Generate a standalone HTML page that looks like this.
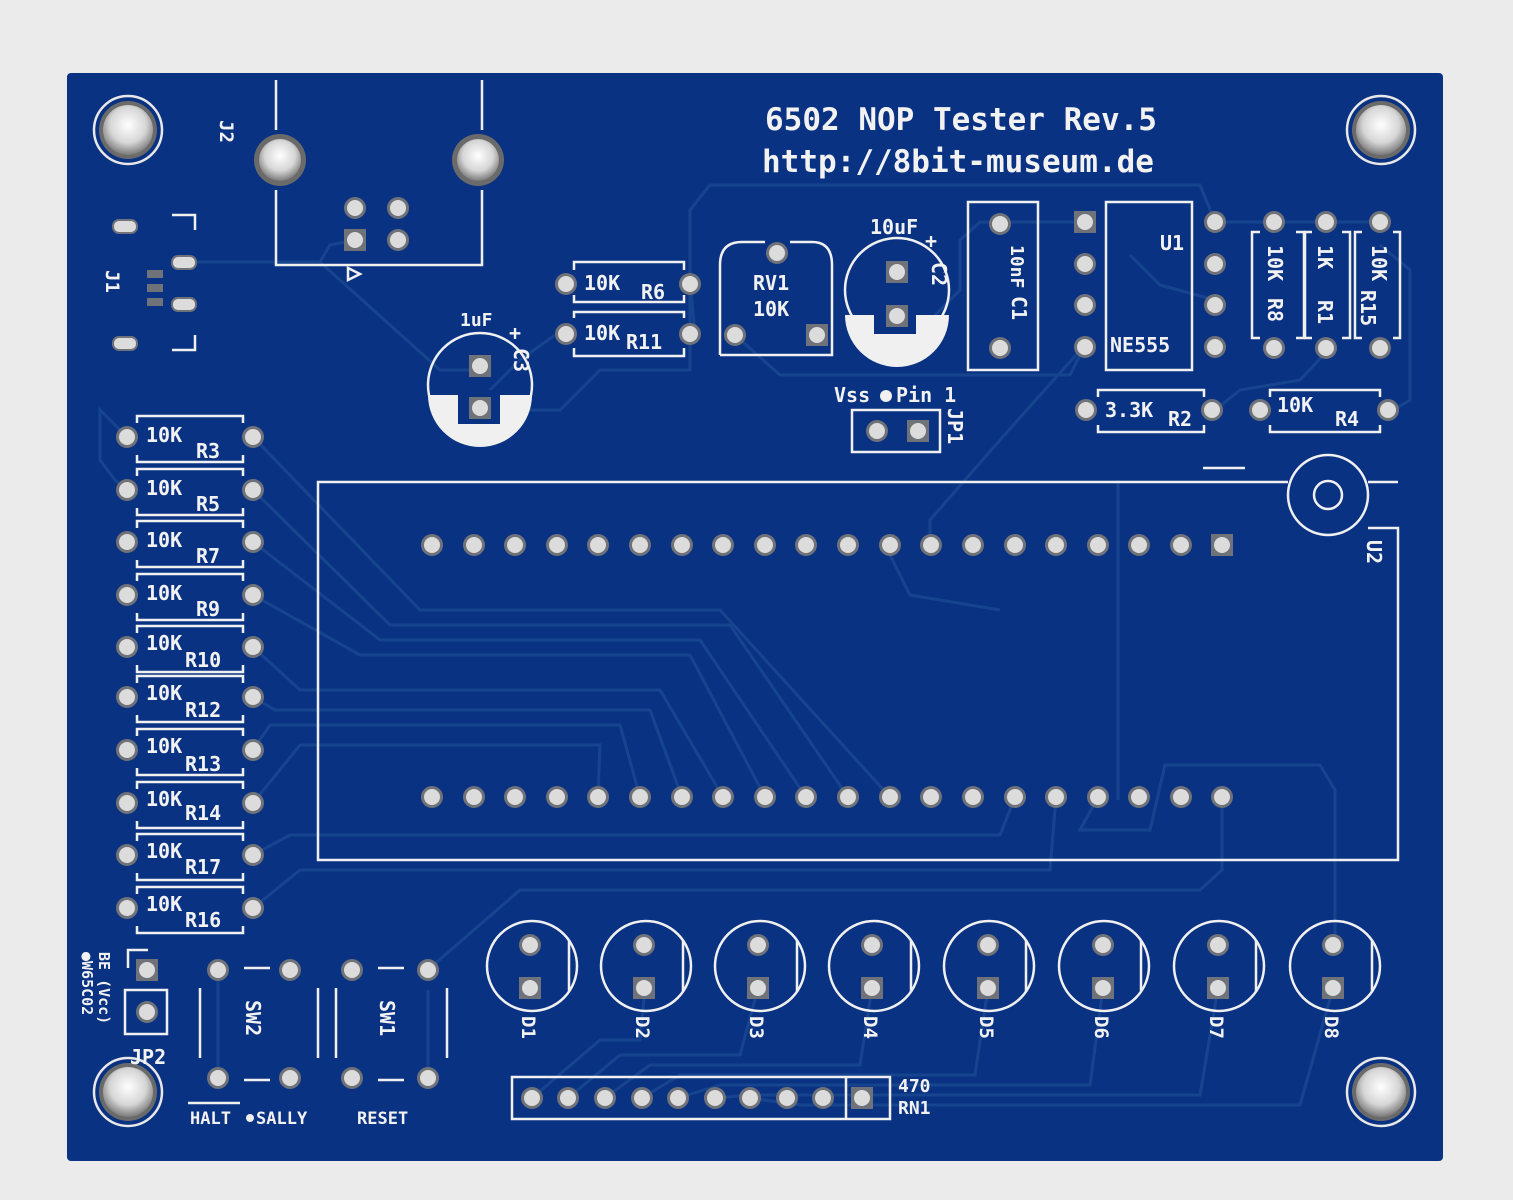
<!DOCTYPE html>
<html><head><meta charset="utf-8"><style>
html,body{margin:0;padding:0;background:#e9e9e9;}
svg{display:block}
text{font-family:"DejaVu Sans Mono","Liberation Mono",monospace;fill:#f2f2f2;font-weight:bold}
</style></head><body>
<svg width="1513" height="1200" viewBox="0 0 1513 1200" xmlns="http://www.w3.org/2000/svg">
<defs>
<radialGradient id="hole" cx="50%" cy="40%" r="60%"><stop offset="0" stop-color="#ffffff"/><stop offset="0.6" stop-color="#d6d6d6"/><stop offset="1" stop-color="#7a7a7a"/></radialGradient>
<g id="p"><circle r="11" fill="#6f7278"/><circle r="8" fill="#dcdcdc"/></g>
<g id="s"><rect x="-11" y="-11" width="22" height="22" fill="#6f7278"/><circle r="8" fill="#dcdcdc"/></g>
<g id="mh"><circle r="34" fill="none" stroke="#e8e8e8" stroke-width="2.5"/><circle r="29" fill="#6a6a6a"/><circle r="25" fill="url(#hole)"/></g>
<g id="led"><circle r="45" fill="none" stroke="#f0f0f0" stroke-width="2.5"/><path d="M 37 -26 L 37 26" stroke="#f0f0f0" stroke-width="2.5"/></g>
</defs>
<rect x="0" y="0" width="1513" height="1200" fill="#ebebeb"/>
<rect x="67" y="73" width="1376" height="1088" rx="4" fill="#0a3282"/>

<!-- traces -->
<g fill="none" stroke="#17448f" stroke-width="3">
<path d="M185 262 L320 262 L330 245 L355 240"/>
<path d="M320 262 L440 370 L480 370"/>
<path d="M485 410 L560 410 L600 370 L690 370 L690 210 L710 185 L1200 185 L1215 222"/>
<path d="M1215 222 L1380 222"/>
<path d="M1080 222 L980 222 L960 240 L960 290 L930 320 L900 320"/>
<path d="M690 280 L695 335"/>
<path d="M555 335 L520 360 L480 400"/>
<path d="M735 335 L780 375 L1070 375 L1085 345"/>
<path d="M1130 255 L1160 285 L1215 300"/>
<path d="M1085 345 L1000 440 L930 520 L930 545"/>
<path d="M1215 410 L1240 390 L1300 380 L1330 348"/>
<path d="M1380 245 L1410 270 L1410 400 L1390 412"/>
<path d="M1118 480 L1118 800"/>
<path d="M127 437 L100 410 L100 460 L115 480 L127 490"/>
<path d="M253 437 L420 610 L720 610 L890 797"/>
<path d="M253 490 L390 625 L730 625 L848 797"/>
<path d="M253 542 L380 640 L700 640 L806 797"/>
<path d="M253 595 L360 655 L690 655 L765 797"/>
<path d="M253 647 L300 690 L660 690 L723 797"/>
<path d="M253 697 L275 710 L650 710 L682 797"/>
<path d="M253 750 L270 725 L620 725 L640 797"/>
<path d="M253 803 L300 745 L600 745 L598 797"/>
<path d="M253 855 L290 835 L1000 835 L1015 797"/>
<path d="M253 908 L300 870 L1050 870 L1056 797"/>
<path d="M1098 797 L1080 830 L1150 830 L1165 765 L1320 765 L1335 790 L1335 945"/>
<path d="M1222 797 L1222 870 L1200 890 L520 890 L430 968"/>
<path d="M218 968 L218 1078"/>
<path d="M428 1078 L428 990"/>
<path d="M885 545 L910 595 L1000 610"/>
<path d="M532 1098 L600 1040 L640 1040 L645 988"/>
<path d="M568 1098 L620 1055 L740 1055 L758 988"/>
<path d="M605 1098 L650 1065 L860 1065 L872 988"/>
<path d="M642 1098 L680 1075 L975 1075 L988 988"/>
<path d="M678 1098 L720 1085 L1090 1085 L1103 988"/>
<path d="M715 1098 L750 1095 L1200 1095 L1218 988"/>
<path d="M750 1098 L800 1105 L1300 1105 L1333 988"/>
</g>

<use href="#mh" x="128" y="130"/><use href="#mh" x="1381" y="130"/>
<use href="#mh" x="128" y="1092"/><use href="#mh" x="1381" y="1092"/>

<g fill="none" stroke="#f0f0f0" stroke-width="2.5">
<path d="M276 80 L276 130 M276 190 L276 265 L482 265 L482 190 M482 130 L482 80"/>
<path d="M348 268 L360 274 L348 280 Z"/>
<path d="M172 215 L195 215 L195 230 M172 350 L195 350 L195 335"/>
<path d="M574 270 L574 262 L684 262 L684 270 M574 295 L574 302 L684 302 L684 295"/>
<path d="M574 318 L574 312 L684 312 L684 318 M574 348 L574 356 L684 356 L684 348"/>
<path d="M720 355 L720 265 Q720 242 742 242 L765 242 M790 242 L812 242 Q832 242 832 265 L832 355 L720 355"/>
<circle cx="897" cy="290" r="52"/>
<circle cx="480" cy="385" r="52"/>
<rect x="968" y="202" width="70" height="168"/>
<rect x="1106" y="202" width="86" height="168"/>
<path d="M1260 232 L1252 232 L1252 338 L1260 338 M1296 232 L1304 232 L1304 338 L1296 338"/>
<path d="M1312 232 L1305 232 L1305 338 L1312 338 M1342 232 L1350 232 L1350 338 L1342 338"/>
<path d="M1362 232 L1355 232 L1355 338 L1362 338 M1393 232 L1400 232 L1400 338 L1393 338"/>
<path d="M1098 397 L1098 390 L1204 390 L1204 397 M1098 425 L1098 432 L1204 432 L1204 425"/>
<path d="M1270 397 L1270 390 L1380 390 L1380 397 M1270 425 L1270 432 L1380 432 L1380 425"/>
<rect x="852" y="410" width="88" height="42"/>
<path d="M1288 482 L318 482 L318 860 L1398 860 L1398 528 L1368 528 M1368 482 L1398 482"/>
<circle cx="1328" cy="495" r="40"/><circle cx="1328" cy="495" r="14"/>
<path d="M1203 468 L1245 468"/>
<path d="M128 968 L128 950 L148 950"/>
<rect x="125" y="990" width="42" height="44"/>
<path d="M200 988 L200 1058 M318 988 L318 1058 M244 968 L270 968 M244 1080 L270 1080"/>
<path d="M336 988 L336 1058 M447 988 L447 1058 M378 968 L404 968 M378 1080 L404 1080"/>
<path d="M188 1103 L240 1103"/>
<rect x="512" y="1077" width="378" height="42"/>
<path d="M846 1077 L846 1119"/>
</g>
<path d="M845 315 A52 52 0 0 0 949 315 Z" fill="#f0f0f0"/>
<path d="M428 395 A52 52 0 0 0 532 395 Z" fill="#f0f0f0"/>
<rect x="874" y="300" width="42" height="34" fill="#0a3282"/>
<rect x="458" y="390" width="42" height="34" fill="#0a3282"/>

<g fill="none" stroke="#f0f0f0" stroke-width="2.5">
<path d="M137 423 L137 416 L243 416 L243 423 M137 455 L137 462 L243 462 L243 455"/>
<path d="M137 476 L137 469 L243 469 L243 476 M137 508 L137 515 L243 515 L243 508"/>
<path d="M137 528 L137 521 L243 521 L243 528 M137 560 L137 567 L243 567 L243 560"/>
<path d="M137 581 L137 574 L243 574 L243 581 M137 613 L137 620 L243 620 L243 613"/>
<path d="M137 633 L137 626 L243 626 L243 633 M137 665 L137 672 L243 672 L243 665"/>
<path d="M137 683 L137 676 L243 676 L243 683 M137 715 L137 722 L243 722 L243 715"/>
<path d="M137 736 L137 729 L243 729 L243 736 M137 768 L137 775 L243 775 L243 768"/>
<path d="M137 789 L137 782 L243 782 L243 789 M137 821 L137 828 L243 828 L243 821"/>
<path d="M137 841 L137 834 L243 834 L243 841 M137 873 L137 880 L243 880 L243 873"/>
<path d="M137 894 L137 887 L243 887 L243 894 M137 926 L137 933 L243 933 L243 926"/>
</g>
<g font-size="20">
<text x="146" y="442">10K</text><text x="196" y="458">R3</text>
<text x="146" y="495">10K</text><text x="196" y="511">R5</text>
<text x="146" y="547">10K</text><text x="196" y="563">R7</text>
<text x="146" y="600">10K</text><text x="196" y="616">R9</text>
<text x="146" y="650">10K</text><text x="185" y="667">R10</text>
<text x="146" y="700">10K</text><text x="185" y="717">R12</text>
<text x="146" y="753">10K</text><text x="185" y="771">R13</text>
<text x="146" y="806">10K</text><text x="185" y="820">R14</text>
<text x="146" y="858">10K</text><text x="185" y="874">R17</text>
<text x="146" y="911">10K</text><text x="185" y="927">R16</text>
</g>

<g>
<use href="#p" x="127" y="437"/><use href="#p" x="253" y="437"/>
<use href="#p" x="127" y="490"/><use href="#p" x="253" y="490"/>
<use href="#p" x="127" y="542"/><use href="#p" x="253" y="542"/>
<use href="#p" x="127" y="595"/><use href="#p" x="253" y="595"/>
<use href="#p" x="127" y="647"/><use href="#p" x="253" y="647"/>
<use href="#p" x="127" y="697"/><use href="#p" x="253" y="697"/>
<use href="#p" x="127" y="750"/><use href="#p" x="253" y="750"/>
<use href="#p" x="127" y="803"/><use href="#p" x="253" y="803"/>
<use href="#p" x="127" y="855"/><use href="#p" x="253" y="855"/>
<use href="#p" x="127" y="908"/><use href="#p" x="253" y="908"/>
<use href="#p" x="432" y="545"/><use href="#p" x="474" y="545"/><use href="#p" x="515" y="545"/><use href="#p" x="557" y="545"/><use href="#p" x="598" y="545"/><use href="#p" x="640" y="545"/><use href="#p" x="682" y="545"/><use href="#p" x="723" y="545"/><use href="#p" x="765" y="545"/><use href="#p" x="806" y="545"/><use href="#p" x="848" y="545"/><use href="#p" x="890" y="545"/><use href="#p" x="931" y="545"/><use href="#p" x="973" y="545"/><use href="#p" x="1015" y="545"/><use href="#p" x="1056" y="545"/><use href="#p" x="1098" y="545"/><use href="#p" x="1139" y="545"/><use href="#p" x="1181" y="545"/><use href="#s" x="1222" y="545"/>
<use href="#p" x="432" y="797"/><use href="#p" x="474" y="797"/><use href="#p" x="515" y="797"/><use href="#p" x="557" y="797"/><use href="#p" x="598" y="797"/><use href="#p" x="640" y="797"/><use href="#p" x="682" y="797"/><use href="#p" x="723" y="797"/><use href="#p" x="765" y="797"/><use href="#p" x="806" y="797"/><use href="#p" x="848" y="797"/><use href="#p" x="890" y="797"/><use href="#p" x="931" y="797"/><use href="#p" x="973" y="797"/><use href="#p" x="1015" y="797"/><use href="#p" x="1056" y="797"/><use href="#p" x="1098" y="797"/><use href="#p" x="1139" y="797"/><use href="#p" x="1181" y="797"/><use href="#p" x="1222" y="797"/>
<circle cx="280" cy="160" r="26" fill="#6a6a6a"/><circle cx="280" cy="160" r="21" fill="url(#hole)"/>
<circle cx="478" cy="160" r="26" fill="#6a6a6a"/><circle cx="478" cy="160" r="21" fill="url(#hole)"/>
<use href="#p" x="355" y="208"/><use href="#p" x="398" y="208"/><use href="#s" x="355" y="240"/><use href="#p" x="398" y="240"/>
<rect x="113" y="220" width="24" height="13" rx="6" fill="#dcdcdc" stroke="#6f7278" stroke-width="2"/>
<rect x="113" y="337" width="24" height="13" rx="6" fill="#dcdcdc" stroke="#6f7278" stroke-width="2"/>
<rect x="172" y="256" width="24" height="13" rx="6" fill="#dcdcdc" stroke="#6f7278" stroke-width="2"/>
<rect x="172" y="298" width="24" height="13" rx="6" fill="#dcdcdc" stroke="#6f7278" stroke-width="2"/>
<rect x="147" y="270" width="16" height="8" fill="#6f7278"/><rect x="147" y="284" width="16" height="8" fill="#6f7278"/><rect x="147" y="298" width="16" height="8" fill="#6f7278"/>
<use href="#p" x="566" y="284"/><use href="#p" x="690" y="284"/>
<use href="#p" x="566" y="334"/><use href="#p" x="690" y="334"/>
<use href="#p" x="777" y="253"/><use href="#p" x="735" y="335"/><use href="#s" x="817" y="335"/>
<use href="#s" x="897" y="272"/><use href="#s" x="897" y="316"/>
<use href="#s" x="480" y="366"/><use href="#s" x="480" y="408"/>
<use href="#p" x="1000" y="224"/><use href="#p" x="1000" y="348"/>
<use href="#s" x="1085" y="222"/><use href="#p" x="1085" y="264"/><use href="#p" x="1085" y="305"/><use href="#p" x="1085" y="347"/>
<use href="#p" x="1215" y="222"/><use href="#p" x="1215" y="264"/><use href="#p" x="1215" y="305"/><use href="#p" x="1215" y="347"/>
<use href="#p" x="1274" y="222"/><use href="#p" x="1274" y="348"/>
<use href="#p" x="1326" y="222"/><use href="#p" x="1326" y="348"/>
<use href="#p" x="1380" y="222"/><use href="#p" x="1380" y="348"/>
<use href="#p" x="1086" y="410"/><use href="#p" x="1212" y="410"/>
<use href="#p" x="1260" y="410"/><use href="#p" x="1388" y="410"/>
<use href="#p" x="877" y="431"/><use href="#s" x="918" y="431"/>
<use href="#led" x="532" y="966"/><use href="#led" x="646" y="966"/><use href="#led" x="760" y="966"/><use href="#led" x="874" y="966"/><use href="#led" x="989" y="966"/><use href="#led" x="1104" y="966"/><use href="#led" x="1219" y="966"/><use href="#led" x="1335" y="966"/>
<use href="#p" x="530" y="945"/><use href="#s" x="530" y="988"/>
<use href="#p" x="644" y="945"/><use href="#s" x="644" y="988"/>
<use href="#p" x="758" y="945"/><use href="#s" x="758" y="988"/>
<use href="#p" x="872" y="945"/><use href="#s" x="872" y="988"/>
<use href="#p" x="988" y="945"/><use href="#s" x="988" y="988"/>
<use href="#p" x="1103" y="945"/><use href="#s" x="1103" y="988"/>
<use href="#p" x="1218" y="945"/><use href="#s" x="1218" y="988"/>
<use href="#p" x="1333" y="945"/><use href="#s" x="1333" y="988"/>
<use href="#s" x="147" y="970"/><use href="#p" x="147" y="1012"/>
<use href="#p" x="218" y="970"/><use href="#p" x="290" y="970"/><use href="#p" x="218" y="1078"/><use href="#p" x="290" y="1078"/>
<use href="#p" x="352" y="970"/><use href="#p" x="428" y="970"/><use href="#p" x="352" y="1078"/><use href="#p" x="428" y="1078"/>
<use href="#p" x="532" y="1098"/><use href="#p" x="568" y="1098"/><use href="#p" x="605" y="1098"/><use href="#p" x="642" y="1098"/><use href="#p" x="678" y="1098"/><use href="#p" x="715" y="1098"/><use href="#p" x="750" y="1098"/><use href="#p" x="787" y="1098"/><use href="#p" x="823" y="1098"/><use href="#s" x="862" y="1098"/>
</g>

<text x="765" y="130" font-size="31">6502 NOP Tester Rev.5</text>
<text x="762" y="172" font-size="31">http://8bit-museum.de</text>
<text x="0" y="0" font-size="19" transform="translate(220,120) rotate(90)">J2</text>
<text x="0" y="0" font-size="19" transform="translate(106,270) rotate(90)">J1</text>
<g font-size="20">
<text x="584" y="290">10K</text><text x="641" y="299">R6</text>
<text x="584" y="340">10K</text><text x="626" y="349">R11</text>
<text x="753" y="290">RV1</text><text x="753" y="316">10K</text>
<text x="870" y="234">10uF</text><text x="925" y="248">+</text>
<text x="460" y="326" font-size="18">1uF</text><text x="509" y="340">+</text>
<text x="0" y="0" transform="translate(932,262) rotate(90)">C2</text>
<text x="0" y="0" transform="translate(514,348) rotate(90)">C3</text>
<text x="0" y="0" font-size="18" transform="translate(1011,245) rotate(90)">10nF</text>
<text x="0" y="0" transform="translate(1012,296) rotate(90)">C1</text>
<text x="1160" y="250">U1</text>
<text x="1110" y="352">NE555</text>
<text x="0" y="0" transform="translate(1268,245) rotate(90)">10K</text>
<text x="0" y="0" transform="translate(1268,298) rotate(90)">R8</text>
<text x="0" y="0" transform="translate(1318,245) rotate(90)">1K</text>
<text x="0" y="0" transform="translate(1318,300) rotate(90)">R1</text>
<text x="0" y="0" transform="translate(1372,245) rotate(90)">10K</text>
<text x="0" y="0" transform="translate(1361,290) rotate(90)">R15</text>
<text x="1105" y="417">3.3K</text><text x="1168" y="426">R2</text>
<text x="1277" y="412">10K</text><text x="1335" y="426">R4</text>
<text x="834" y="402">Vss</text><circle cx="886" cy="396" r="6" fill="#f0f0f0"/><text x="896" y="402">Pin 1</text>
<text x="0" y="0" transform="translate(948,408) rotate(90)">JP1</text>
<text x="0" y="0" transform="translate(1367,540) rotate(90)">U2</text>
<text x="0" y="0" transform="translate(246,1000) rotate(90)">SW2</text>
<text x="0" y="0" transform="translate(380,1000) rotate(90)">SW1</text>
<text x="130" y="1064">JP2</text>
<text x="898" y="1092" font-size="18">470</text><text x="898" y="1114" font-size="18">RN1</text>
<text x="190" y="1124" font-size="17">HALT</text><circle cx="250" cy="1118" r="4" fill="#f0f0f0"/><text x="256" y="1124" font-size="17">SALLY</text>
<text x="357" y="1124" font-size="17">RESET</text>
</g>
<g font-size="15">
<text x="0" y="0" transform="translate(99,952) rotate(90)">BE (Vcc)</text>
<text x="0" y="0" transform="translate(82,952) rotate(90)">●W65C02</text>
</g>
<g font-size="19">
<text x="0" y="0" transform="translate(522,1016) rotate(90)">D1</text>
<text x="0" y="0" transform="translate(636,1016) rotate(90)">D2</text>
<text x="0" y="0" transform="translate(750,1016) rotate(90)">D3</text>
<text x="0" y="0" transform="translate(864,1016) rotate(90)">D4</text>
<text x="0" y="0" transform="translate(980,1016) rotate(90)">D5</text>
<text x="0" y="0" transform="translate(1095,1016) rotate(90)">D6</text>
<text x="0" y="0" transform="translate(1210,1016) rotate(90)">D7</text>
<text x="0" y="0" transform="translate(1325,1016) rotate(90)">D8</text>
</g>
</svg>
</body></html>
